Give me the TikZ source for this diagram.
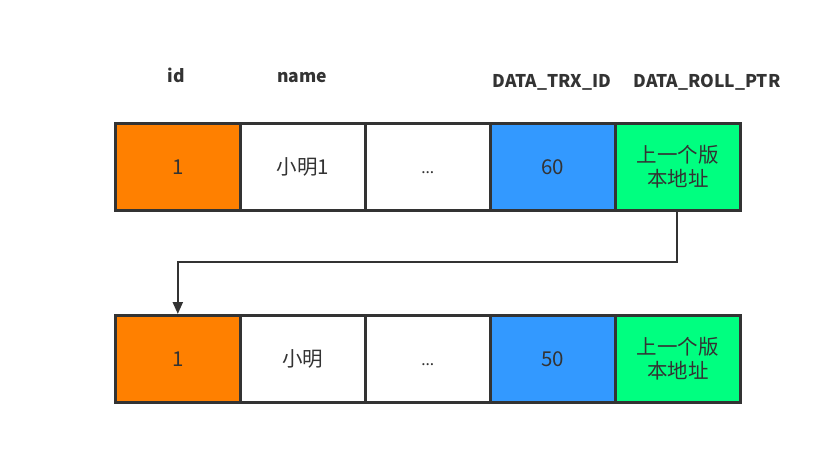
\documentclass[tikz,border=0pt]{standalone}
\usepackage{fontspec}
\setmainfont{Noto Sans CJK SC}
\newfontfamily\latfont{Noto Sans}
\usetikzlibrary{arrows.meta}
\definecolor{txt}{HTML}{333333}
\definecolor{corange}{HTML}{FF8000}
\definecolor{cblue}{HTML}{3399FF}
\definecolor{cgreen}{HTML}{00FF80}
\tikzset{
  cell/.style={draw=txt, line width=2.6pt, minimum width=125pt, minimum height=87pt, inner sep=0pt, anchor=north west, text=txt, font=\fontsize{20.5}{24}\selectfont, align=center},
  head/.style={anchor=base, text=txt, font=\bfseries\fontsize{17.5}{20}\selectfont, inner sep=0pt},
  conn/.style={draw=txt, line width=2.2pt, -{Triangle[length=12pt,width=10pt]}}
}
\newcommand{\dotsx}{\vphantom{1}{\latfont\fontsize{16}{20}\selectfont ...}}
\begin{document}
\begin{tikzpicture}[x=1pt,y=-1pt]
\useasboundingbox (0,0) rectangle (839,463);
\node[head] (h1) at (176,82) {id};
\node[head] (h2) at (302,82) {name};
\node[head] (h3) at (552,87) {DATA\_TRX\_ID};
\node[head] (h4) at (707,87) {DATA\_ROLL\_PTR};
% top row
\node[cell, fill=corange] (t1) at (114,122) {1};
\node[cell, fill=white] (t2) at (239,122) {小明1};
\node[cell, fill=white] (t3) at (364,122) {\dotsx};
\node[cell, fill=cblue] (t4) at (489,122) {60};
\node[cell, fill=cgreen] (t5) at (614,122) {上一个版\\本地址};
% bottom row
\node[cell, fill=corange] (b1) at (114,314) {1};
\node[cell, fill=white] (b2) at (239,314) {小明};
\node[cell, fill=white] (b3) at (364,314) {\dotsx};
\node[cell, fill=cblue] (b4) at (489,314) {50};
\node[cell, fill=cgreen] (b5) at (614,314) {上一个版\\本地址};
\coordinate (m) at (677,262);
\draw[conn] (t5.south -| m) -- (m) -| (b1.north);
\end{tikzpicture}
\end{document}
